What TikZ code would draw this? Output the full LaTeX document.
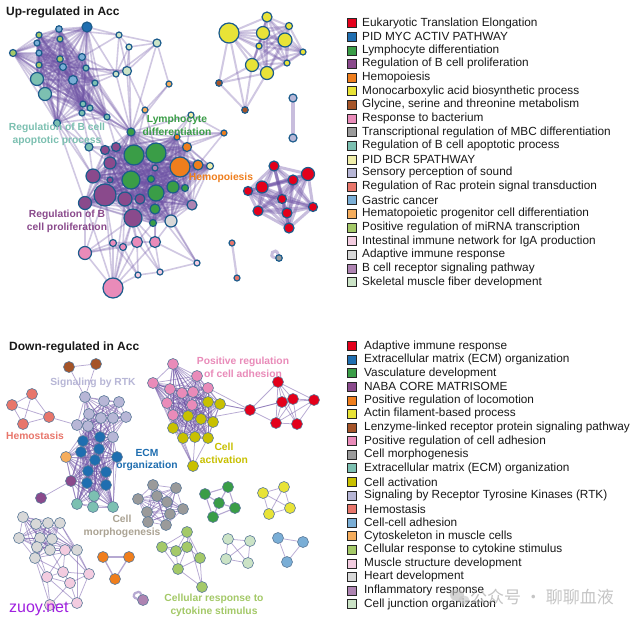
\documentclass[tikz,border=0pt]{standalone}
\usepackage{fontspec}
\setmainfont{Liberation Sans}
\newfontfamily\cjk{Noto Sans CJK SC}
\pgfdeclarelayer{bg}
\pgfsetlayers{bg,main}
\definecolor{cRed}{HTML}{E3001B}
\definecolor{cBlue}{HTML}{1F6EB0}
\definecolor{cGreen}{HTML}{3A9D47}
\definecolor{cPurple}{HTML}{8A4A8C}
\definecolor{cOrange}{HTML}{EF7E1D}
\definecolor{cYellow}{HTML}{E8E337}
\definecolor{cBrown}{HTML}{A55428}
\definecolor{cPink}{HTML}{E98BB9}
\definecolor{cGrey}{HTML}{9A9A9A}
\definecolor{cTeal}{HTML}{7CC0B1}
\definecolor{cPaleY}{HTML}{F0EEAA}
\definecolor{cLav}{HTML}{B7B6D6}
\definecolor{cSalmon}{HTML}{E8766B}
\definecolor{cLBlue}{HTML}{7AAED6}
\definecolor{cLOrange}{HTML}{F5AD5D}
\definecolor{cYG}{HTML}{A4C968}
\definecolor{cPPink}{HTML}{F3CCE0}
\definecolor{cLGrey}{HTML}{D8D8D8}
\definecolor{cMauve}{HTML}{AE84B2}
\definecolor{cPGreen}{HTML}{CBE3C6}
\definecolor{cOlive}{HTML}{C8C000}
\definecolor{cTan}{HTML}{ABA393}
\definecolor{cZuoy}{HTML}{A020E0}
\definecolor{tbd}{HTML}{1C5C8C}
\definecolor{bbd}{HTML}{5C7A99}
\definecolor{edg}{HTML}{6F54A6}
\tikzset{
 tn/.style={circle, draw=tbd, line width=1.2pt, inner sep=0pt, outer sep=0pt},
 bn/.style={circle, draw=bbd, line width=0.6pt, inner sep=0pt, outer sep=0pt, minimum size=11pt},
 et/.style={draw=edg, line width=1.6pt, opacity=0.32, line cap=round},
 etk/.style={draw=edg, line width=3pt, opacity=0.38, line cap=round},
 eb/.style={draw=edg, line width=0.75pt, opacity=0.5},
 lab/.style={font=\fontsize{10.3}{12.8}\selectfont\bfseries, align=center, inner sep=0pt},
 ttl/.style={font=\fontsize{12}{14}\selectfont\bfseries, anchor=west, inner sep=0pt, text=black!90},
 legbox/.style={draw=black!85, line width=0.6pt, minimum size=9pt, inner sep=0pt},
 legtxt/.style={font=\fontsize{11.8}{13}\selectfont, anchor=west, inner sep=0pt, text=black!90},
}
\newcommand\TN[5]{\node[tn, fill=#5, minimum size=#4pt] (#1) at (#2,#3) {};}
\newcommand\BN[4]{\node[bn, fill=#4] (#1) at (#2,#3) {};}
\newcommand\clique[2]{\foreach \a [count=\i] in {#2}{\foreach \b [count=\j] in {#2}{\ifnum\j>\i\relax \draw[#1] (\a) -- (\b);\fi}}}
\newcommand\edges[2]{\foreach \a/\b in {#2}{\draw[#1] (\a) -- (\b);}}
\newcommand\LG[5]{\node[legbox, fill=#4] (#1b) at (351.5,#3) {}; \node[legtxt] (#1t) at (#2,#3) {#5};}
\begin{document}
\begin{tikzpicture}[x=1pt,y=-1pt]
\useasboundingbox (0,0) rectangle (643,625);
% ---------------- UP network nodes
\node[ttl] (title1) at (6,12) {Up-regulated in Acc};
\TN{ta1}{87}{27}{10}{cBlue}
\TN{ta2}{59}{29}{6.5}{cLBlue}
\TN{ta3}{39}{35}{6}{cYG}
\TN{ta4}{60}{39}{6}{cYG}
\TN{ta5}{37}{43}{6}{cLBlue}
\TN{ta6}{13}{53}{7}{cYG}
\TN{ta7}{39}{53}{6}{cLBlue}
\TN{ta8}{60}{59}{6.5}{cYG}
\TN{ta9}{82}{57}{7}{cLBlue}
\TN{ta10}{39}{65}{6}{cYG}
\TN{ta11}{63}{67}{7}{cLBlue}
\TN{ta12}{86}{68}{6}{cTeal}
\TN{ta13}{37}{79}{13}{cTeal}
\TN{ta14}{73}{80}{9}{cLBlue}
\TN{ta15}{95}{83}{6}{cTeal}
\TN{ta16}{45}{94}{13}{cTeal}
\TN{ta17}{83}{104}{6}{cTeal}
\TN{ta18}{90}{108}{6}{cTeal}
\TN{ta19}{82}{113}{6}{cTeal}
\TN{ta20}{107}{117}{6}{cTeal}
\TN{ta21}{57}{123}{7}{cTeal}
\TN{ta22}{89}{147}{8}{cTeal}
\TN{tp1}{119}{35}{6}{cPGreen}
\TN{tp2}{129}{47}{6}{cPGreen}
\TN{tp3}{157}{43}{8}{cPGreen}
\TN{tp4}{116}{74}{6}{cPGreen}
\TN{tp5}{127}{71}{9}{cPGreen}
\TN{to1}{169}{84}{6}{cLOrange}
\TN{to2}{145}{110}{6}{cLOrange}
\TN{tg0}{131}{132}{8}{cGreen}
\TN{ty1}{191}{115}{6}{cPaleY}
\TN{ty2}{210}{166}{7}{cPaleY}
\TN{tor1}{177}{137}{6}{cOrange}
\TN{tor2}{224}{133}{6}{cOrange}
\TN{tor3}{187}{147}{9}{cOrange}
\TN{tor4}{180}{167}{20}{cOrange}
\TN{tor5}{198}{165}{10}{cOrange}
\TN{tc1}{105}{150}{9}{cPurple}
\TN{tc2}{116}{147}{9}{cPurple}
\TN{tc3}{134}{155}{20}{cGreen}
\TN{tc4}{156}{153}{20}{cGreen}
\TN{tc5}{110}{163}{12}{cPurple}
\TN{tc6}{93}{176}{14}{cPurple}
\TN{tc7}{131}{180}{18}{cGreen}
\TN{tc8}{110}{180}{6}{cPurple}
\TN{tc9}{155}{168}{6}{cMauve}
\TN{tc10}{151}{179}{7}{cGreen}
\TN{tc11}{173}{187}{12}{cGreen}
\TN{tc12}{185}{188}{7}{cGreen}
\TN{tc13}{156}{193}{16}{cGreen}
\TN{tc14}{105}{195}{22}{cPurple}
\TN{tc15}{125}{199}{14}{cPurple}
\TN{tc16}{140}{199}{10}{cPurple}
\TN{tc17}{85}{203}{13}{cPurple}
\TN{tc18}{192}{205}{10}{cMauve}
\TN{tc19}{155}{209}{10}{cGreen}
\TN{tc20}{133}{218}{18}{cPurple}
\TN{tc21}{171}{221}{12}{cLGrey}
\TN{tc22}{153}{223}{7}{cGreen}
\TN{tk1}{137}{242}{11}{cPink}
\TN{tk2}{155}{242}{11}{cPink}
\TN{tk3}{113}{243}{7}{cPink}
\TN{tk4}{123}{247}{7}{cPink}
\TN{tk5}{85}{253}{13}{cPink}
\TN{tk6}{197}{263}{6}{cPPink}
\TN{tk7}{160}{272}{6}{cPPink}
\TN{tk8}{138}{275}{6}{cPPink}
\TN{tk9}{113}{288}{20}{cPink}
\TN{ya}{229}{33}{20}{cYellow}
\TN{yb}{267}{17}{10}{cYellow}
\TN{yc}{289}{26}{7}{cYellow}
\TN{yd}{263}{33}{13}{cYellow}
\TN{ye}{285}{40}{14}{cYellow}
\TN{yf}{259}{46}{6}{cYellow}
\TN{yg}{303}{52}{6}{cYellow}
\TN{yh}{252}{65}{13}{cYellow}
\TN{yi}{267}{73}{13}{cYellow}
\TN{yj}{287}{63}{6}{cYellow}
\TN{br1}{219}{83}{6.5}{cBrown}
\TN{br2}{245}{110}{6.5}{cBrown}
\TN{lv1}{293}{98}{8}{cLav}
\TN{lv2}{293}{138}{8}{cLav}
\TN{r1}{274}{166}{10}{cRed}
\TN{r2}{308}{174}{13}{cRed}
\TN{r3}{293}{180}{10}{cRed}
\TN{r4}{262}{187}{12}{cRed}
\TN{r5}{248}{191}{9}{cRed}
\TN{r6}{282}{199}{9}{cRed}
\TN{r7}{313}{207}{9}{cRed}
\TN{r8}{258}{211}{10}{cRed}
\TN{r9}{287}{213}{10}{cRed}
\TN{r10}{289}{228}{10}{cRed}
\TN{sa1}{232}{243}{6}{cSalmon}
\TN{sa2}{237}{278}{6}{cSalmon}
\TN{gl}{279}{258}{6.5}{cGrey}
% labels
\node[lab, text=cTeal] (lbA) at (57,134) {Regulation of B cell\\apoptotic process};
\node[lab, text=cGreen] (lbB) at (177,125) {Lymphocyte\\differentiation};
\node[lab, text=cOrange] (lbC) at (221,178) {Hemopoiesis};
\node[lab, text=cPurple] (lbD) at (67,221.5) {Regulation of B\\cell proliferation};
% ---------------- DOWN network nodes
\node[ttl] (title2) at (9,347) {Down-regulated in Acc};
\BN{db1}{69}{367}{cBrown} \BN{db2}{96}{364}{cBrown}
\BN{dh1}{32}{394}{cSalmon} \BN{dh2}{12}{405}{cSalmon} \BN{dh3}{49}{417}{cSalmon} \BN{dh4}{23}{424}{cSalmon}
\BN{dl1}{85}{397}{cLav} \BN{dl2}{104}{401}{cLav} \BN{dl3}{119}{402}{cLav} \BN{dl4}{89}{414}{cLav} \BN{dl5}{101}{418}{cLav}
\BN{dl6}{113}{418}{cLav} \BN{dl7}{126}{417}{cLav} \BN{dl8}{77}{425}{cLav} \BN{dl9}{88}{426}{cLav} \BN{dl10}{113}{437}{cLav}
\BN{de1}{83}{441}{cBlue} \BN{de2}{100}{437}{cBlue} \BN{de3}{81}{452}{cBlue} \BN{de4}{99}{449}{cBlue} \BN{de5}{117}{457}{cBlue}
\BN{de6}{95}{460}{cBlue} \BN{de7}{88}{471}{cBlue} \BN{de8}{106}{472}{cBlue} \BN{de9}{87}{483}{cBlue} \BN{de10}{106}{485}{cBlue}
\BN{dlo}{66}{457}{cLOrange}
\BN{dp1}{71}{481}{cPurple} \BN{dp2}{41}{498}{cPurple}
\BN{dt1}{94}{496}{cTeal} \BN{dt2}{77}{504}{cTeal} \BN{dt3}{93}{507}{cTeal} \BN{dt4}{113}{507}{cTeal}
\BN{dk1}{173}{364}{cPink} \BN{dk2}{197}{376}{cPink} \BN{dk3}{153}{383}{cPink} \BN{dk4}{170}{389}{cPink} \BN{dk5}{182}{393}{cPink}
\BN{dk6}{193}{392}{cPink} \BN{dk7}{208}{388}{cPink} \BN{dk8}{167}{403}{cPink} \BN{dk9}{192}{405}{cPink} \BN{dk10}{173}{415}{cPink}
\BN{dv1}{208}{402}{cOlive} \BN{dv2}{220}{404}{cOlive} \BN{dv3}{188}{416}{cOlive} \BN{dv4}{201}{419}{cOlive} \BN{dv5}{213}{422}{cOlive}
\BN{dv6}{173}{428}{cOlive} \BN{dv7}{183}{438}{cOlive} \BN{dv8}{195}{437}{cOlive} \BN{dv9}{208}{438}{cOlive} \BN{dv10}{193}{466}{cOlive}
\BN{dr0}{250}{410}{cRed} \BN{dr1}{278}{382}{cRed} \BN{dr2}{282}{402}{cRed} \BN{dr3}{293}{399}{cRed} \BN{dr4}{314}{400}{cRed}
\BN{dr5}{276}{423}{cRed} \BN{dr6}{297}{424}{cRed}
\BN{dm1}{153}{485}{cGrey} \BN{dm2}{176}{488}{cGrey} \BN{dm3}{138}{499}{cGrey} \BN{dm4}{157}{496}{cGrey} \BN{dm5}{167}{502}{cGrey}
\BN{dm6}{183}{509}{cGrey} \BN{dm7}{147}{512}{cGrey} \BN{dm8}{170}{514}{cGrey} \BN{dm9}{148}{522}{cGrey} \BN{dm10}{166}{525}{cGrey}
\BN{dg1}{205}{494}{cGreen} \BN{dg2}{228}{487}{cGreen} \BN{dg3}{219}{503}{cGreen} \BN{dg4}{235}{508}{cGreen} \BN{dg5}{213}{517}{cGreen}
\BN{dy1}{263}{493}{cYellow} \BN{dy2}{284}{487}{cYellow} \BN{dy3}{290}{508}{cYellow} \BN{dy4}{269}{514}{cYellow}
\BN{dc1}{187}{532}{cYG} \BN{dc2}{162}{547}{cYG} \BN{dc3}{176}{551}{cYG} \BN{dc4}{187}{547}{cYG} \BN{dc5}{200}{558}{cYG}
\BN{dc6}{178}{569}{cYG} \BN{dc7}{202}{587}{cYG}
\BN{dj1}{228}{539}{cPGreen} \BN{dj2}{250}{541}{cPGreen} \BN{dj3}{226}{559}{cPGreen} \BN{dj4}{248}{563}{cPGreen}
\BN{dbl1}{278}{538}{cLBlue} \BN{dbl2}{303}{542}{cLBlue} \BN{dbl3}{287}{562}{cLBlue}
\BN{dq1}{103}{557}{cOrange} \BN{dq2}{129}{557}{cOrange} \BN{dq3}{115}{579}{cOrange}
\BN{dml}{143}{600}{cMauve}
\BN{dhd1}{23}{517}{cLGrey} \BN{dhd2}{36}{524}{cLGrey} \BN{dhd3}{48}{523}{cLGrey} \BN{dhd4}{60}{523}{cLGrey}
\BN{dhd5}{19}{538}{cLGrey} \BN{dhd6}{40}{538}{cLGrey} \BN{dhd7}{52}{539}{cLGrey} \BN{dhd8}{37}{547}{cLGrey}
\BN{dhd9}{50}{550}{cLGrey} \BN{dhd10}{77}{550}{cLGrey} \BN{dhd11}{35}{558}{cLGrey}
\BN{dmp1}{65}{550}{cPPink} \BN{dmp2}{63}{572}{cPPink} \BN{dmp3}{47}{577}{cPPink} \BN{dmp4}{89}{574}{cPPink}
\BN{dmp5}{70}{583}{cPPink} \BN{dmp6}{77}{603}{cPPink} \BN{dmp7}{50}{605}{cPPink}
% labels
\node[lab, text=cLav] (lbE) at (93,383) {Signaling by RTK};
\node[lab, text=cSalmon] (lbF) at (35,436) {Hemostasis};
\node[lab, text=cBlue] (lbG) at (147,460) {ECM\\organization};
\node[lab, text=cPink] (lbH) at (243,367.5) {Positive regulation\\of cell adhesion};
\node[lab, text=cOlive] (lbI) at (224,453.5) {Cell\\activation};
\node[lab, text=cTan] (lbJ) at (122,526) {Cell\\morphogenesis};
\node[lab, text=cYG] (lbK) at (214,605.5) {Cellular response to\\cytokine stimulus};
\node[font=\fontsize{16}{18}\selectfont, text=cZuoy, anchor=west, inner sep=0pt] (zuoy) at (9,609) {zuoy.net};
% ---------------- legends
\LG{u1}{362}{23.0}{cRed}{Eukaryotic Translation Elongation}
\LG{u2}{362}{36.6}{cBlue}{PID MYC ACTIV PATHWAY}
\LG{u3}{362}{50.3}{cGreen}{Lymphocyte differentiation}
\LG{u4}{362}{63.9}{cPurple}{Regulation of B cell proliferation}
\LG{u5}{362}{77.5}{cOrange}{Hemopoiesis}
\LG{u6}{362}{91.2}{cYellow}{Monocarboxylic acid biosynthetic process}
\LG{u7}{362}{104.8}{cBrown}{Glycine, serine and threonine metabolism}
\LG{u8}{362}{118.4}{cPink}{Response to bacterium}
\LG{u9}{362}{132.0}{cGrey}{Transcriptional regulation of MBC differentiation}
\LG{u10}{362}{145.7}{cTeal}{Regulation of B cell apoptotic process}
\LG{u11}{362}{159.3}{cPaleY}{PID BCR 5PATHWAY}
\LG{u12}{362}{172.9}{cLav}{Sensory perception of sound}
\LG{u13}{362}{186.6}{cSalmon}{Regulation of Rac protein signal transduction}
\LG{u14}{362}{200.2}{cLBlue}{Gastric cancer}
\LG{u15}{362}{213.8}{cLOrange}{Hematopoietic progenitor cell differentiation}
\LG{u16}{362}{227.5}{cYG}{Positive regulation of miRNA transcription}
\LG{u17}{362}{241.1}{cPPink}{Intestinal immune network for IgA production}
\LG{u18}{362}{254.7}{cLGrey}{Adaptive immune response}
\LG{u19}{362}{268.3}{cMauve}{B cell receptor signaling pathway}
\LG{u20}{362}{282.0}{cPGreen}{Skeletal muscle fiber development}
\LG{d1}{364}{346.0}{cRed}{Adaptive immune response}
\LG{d2}{364}{359.6}{cBlue}{Extracellular matrix (ECM) organization}
\LG{d3}{364}{373.2}{cGreen}{Vasculature development}
\LG{d4}{364}{386.7}{cPurple}{NABA CORE MATRISOME}
\LG{d5}{364}{400.3}{cOrange}{Positive regulation of locomotion}
\LG{d6}{364}{413.9}{cYellow}{Actin filament-based process}
\LG{d7}{364}{427.5}{cBrown}{Lenzyme-linked receptor protein signaling pathway}
\LG{d8}{364}{441.1}{cPink}{Positive regulation of cell adhesion}
\LG{d9}{364}{454.6}{cGrey}{Cell morphogenesis}
\LG{d10}{364}{468.2}{cTeal}{Extracellular matrix (ECM) organization}
\LG{d11}{364}{481.8}{cOlive}{Cell activation}
\LG{d12}{364}{495.4}{cLav}{Signaling by Receptor Tyrosine Kinases (RTK)}
\LG{d13}{364}{509.0}{cSalmon}{Hemostasis}
\LG{d14}{364}{522.5}{cLBlue}{Cell-cell adhesion}
\LG{d15}{364}{536.1}{cLOrange}{Cytoskeleton in muscle cells}
\LG{d16}{364}{549.7}{cYG}{Cellular response to cytokine stimulus}
\LG{d17}{364}{563.3}{cPPink}{Muscle structure development}
\LG{d18}{364}{576.9}{cLGrey}{Heart development}
\LG{d19}{364}{590.4}{cMauve}{Inflammatory response}
\LG{d20}{364}{604.0}{cPGreen}{Cell junction organization}
% watermark
\fill[gray!55, opacity=0.6] (457,595) ellipse (7 and 6);
\fill[gray!45, opacity=0.6] (464,600) ellipse (5.5 and 4.5);
\node[font=\cjk\fontsize{17}{17}\selectfont, text=gray!60, opacity=0.75, anchor=west, inner sep=0pt] (wm) at (470,597) {公众号 · 聊聊血液};
% ---------------- edges
\begin{pgfonlayer}{bg}
\fill[white] (0,0) rectangle (643,625);
\clique{et}{ta1,ta2,ta3,ta4,ta5,ta6,ta7,ta8,ta9,ta10,ta11,ta12,ta13,ta14,ta15,ta16,ta17,ta18,ta19,ta20,ta21}
\clique{et}{tc1,tc2,tc3,tc4,tc5,tc6,tc7,tc8,tc9,tc10,tc11,tc12,tc13,tc14,tc15,tc16,tc17,tc18,tc19,tc20,tc21,tc22,tg0,tor1,tor3,tor4,tor5,ty2}
\clique{et}{tp1,tp2,tp3,tp4,tp5}
\edges{et}{ta22/ta16,ta22/ta21,ta22/ta19,ta22/tc1,ta22/tc5,ta22/tc6,ta22/tc2,ta21/tc6,ta21/tc17,ta16/tc6,ta19/tg0,ta20/tg0,ta17/tg0,ta18/tg0,ta15/tg0,ta12/tg0,ta14/tg0,ta9/tg0,ta20/tc2,ta20/tc3,ta19/tc1,ta18/tc1,ta15/tp4,ta12/tp4,ta9/tp1,ta1/tp1,ta1/tp4,ta2/tp1,ta11/tp5,ta14/tp5,ta9/tp4,ta12/tp5,tp3/to1,tp2/tg0,tp4/tg0,tp5/tg0,tp5/to2,tp3/tg0,to1/to2,to1/tg0,to2/tg0,to2/tc3,to2/tc4,ty1/tor1,ty1/tor2,ty1/tor3,ty1/tg0,ty1/tc4,tor2/tor1,tor2/tor3,tor2/tor5,tor2/tc4,tor2/tg0}
\edges{et}{tk9/tk5,tk9/tk3,tk9/tk4,tk9/tk1,tk9/tk2,tk9/tk8,tk9/tc14,tk9/tc20,tk9/tc15,tk9/tc17,tk5/tk3,tk5/tk4,tk5/tc14,tk5/tc17,tk5/tc20,tk5/tk1,tk3/tk4,tk3/tk1,tk4/tk1,tk1/tk2,tk1/tc20,tk2/tc20,tk2/tc13,tk2/tc19,tk1/tc15,tk3/tc14,tk4/tc15,tk6/tk2,tk6/tk7,tk6/tc21,tk6/tc13,tk6/tc19,tk7/tk8,tk7/tk2,tk7/tk1,tk7/tc20,tk8/tk4,tk8/tk1,tk8/tk3,tk2/tc21,tk1/tc22,tk4/tc20}
\clique{et, line width=2pt}{ya,yb,yc,yd,ye,yf,yg,yh,yi,yj}
\edges{et, line width=2pt}{br1/ya,br1/yh,br1/yi,br1/br2,br2/ya,br2/yh,br2/yi}
\clique{etk}{r1,r2,r3,r4,r5,r6,r7,r8,r9,r10}
\draw[etk, line width=3.5pt] (lv1) -- (lv2);
\draw[et, line width=2.2pt] (sa1) -- (sa2);
\draw[etk] (gl) .. controls +(-13,-1) and +(-3,-13) .. (gl);
% bottom
\clique{eb}{dl1,dl2,dl3,dl4,dl5,dl6,dl7,dl8,dl9,dl10,de1,de2,de4}
\clique{eb}{de1,de2,de3,de4,de5,de6,de7,de8,de9,de10,dt1,dt2,dt3,dt4,dp1,dlo,dl9,dl10}
\clique{eb}{dh1,dh2,dh3,dh4}
\edges{eb}{dh3/dl8,db1/db2,db1/dl1,db2/dl1,dp1/dp2}
\clique{eb}{dk1,dk2,dk3,dk4,dk5,dk6,dk7,dk8,dk9,dk10,dv1,dv2,dv3,dv4,dv5,dv6,dv7,dv8,dv9}
\edges{eb}{dv10/dv6,dv10/dv7,dv10/dv8,dv10/dv9,dv10/dk8,dv10/dk3,dr0/dv1,dr0/dv2,dr0/dk7,dr0/dv4,dr0/dr1,dr0/dr2,dr0/dr3,dr0/dr5}
\clique{eb}{dr1,dr2,dr3,dr4,dr5,dr6}
\clique{eb}{dm1,dm2,dm3,dm4,dm5,dm6,dm7,dm8,dm9,dm10}
\edges{eb, line width=1.1pt}{dg1/dg2,dg2/dg4,dg4/dg5,dg5/dg1,dg1/dg3,dg2/dg3,dg3/dg4,dg3/dg5}
\clique{eb}{dy1,dy2,dy3,dy4}
\edges{eb}{dc1/dc2,dc1/dc3,dc1/dc4,dc1/dc5,dc2/dc3,dc2/dc4,dc2/dc6,dc3/dc4,dc3/dc6,dc4/dc5,dc4/dc6,dc5/dc6,dc5/dc7,dc6/dc7,dc1/dc7}
\clique{eb}{dj1,dj2,dj3,dj4}
\clique{eb}{dbl1,dbl2,dbl3}
\clique{eb, line width=1.3pt}{dq1,dq2,dq3}
\draw[eb, line width=2.2pt] (dml) .. controls +(-15,-3) and +(-4,-13) .. (dml);
\clique{eb}{dhd1,dhd2,dhd3,dhd4,dhd5,dhd6,dhd7,dhd8,dhd9,dhd10,dhd11}
\edges{eb}{dmp1/dmp2,dmp1/dmp4,dmp1/dmp3,dmp2/dmp3,dmp2/dmp4,dmp2/dmp5,dmp3/dmp5,dmp3/dmp7,dmp4/dmp5,dmp4/dmp6,dmp5/dmp6,dmp5/dmp7,dmp6/dmp7,dmp3/dmp6,dmp1/dhd9,dmp1/dhd10,dmp1/dhd7,dmp2/dhd9,dmp3/dhd11,dmp3/dhd8,dmp4/dhd10,dmp7/dhd11,dmp2/dhd11,dmp6/dhd10,dmp4/dhd4}
\end{pgfonlayer}
\end{tikzpicture}
\end{document}
